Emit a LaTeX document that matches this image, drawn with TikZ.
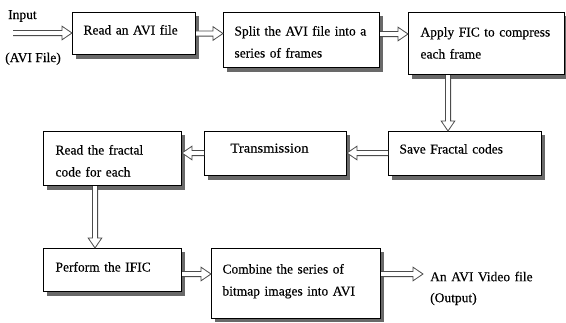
\documentclass[tikz,border=0pt]{standalone}
\usepackage{fontspec}
\setmainfont{Liberation Serif}[FakeBold=0.3]
\usetikzlibrary{calc}
\definecolor{shadowgray}{RGB}{105,105,105}
\begin{document}
\begin{tikzpicture}[x=1pt,y=-1pt,
  bx/.style={draw=black, line width=1pt, fill=white, anchor=north west,
    inner ysep=0pt, align=left, font=\fontsize{13.5}{22}\selectfont},
  lbl/.style={inner sep=0pt, align=left, font=\fontsize{13.5}{21}\selectfont},
  shd/.style={fill=shadowgray, draw=none},
  hol/.style={draw=black!70, line width=0.8pt, fill=white, line join=miter,
    to path={let \p1=($(\tikztotarget)!10pt!(\tikztostart)$) in
      ($(\tikztostart)!2.6pt!90:(\tikztotarget)$) --
      ($(\p1)!2.6pt!90:(\tikztotarget)$) --
      ($(\p1)!6.8pt!90:(\tikztotarget)$) --
      (\tikztotarget) --
      ($(\p1)!6.8pt!-90:(\tikztotarget)$) --
      ($(\p1)!2.6pt!-90:(\tikztotarget)$) --
      ($(\tikztostart)!2.6pt!-90:(\tikztotarget)$)}}]
\useasboundingbox (0,0) rectangle (566,322);
% drop shadows, drawn first, offset right and down from each box
\fill[shd] (75.5,15.5) rectangle (199,58.5);
\fill[shd] (226.5,15.5) rectangle (383,71.5);
\fill[shd] (411.5,15.5) rectangle (569,78.5);
\fill[shd] (391.5,134.5) rectangle (545,179.5);
\fill[shd] (207.5,134.5) rectangle (350,179.5);
\fill[shd] (46.5,134.5) rectangle (185,189.5);
\fill[shd] (46.5,251.5) rectangle (185,295.5);
\fill[shd] (214.5,251.5) rectangle (384,322);
\node[bx, inner xsep=11pt, text width=101pt, minimum width=123pt, minimum height=42pt,
  text height=22pt, text depth=20pt] (b1) at (72,12) {Read an AVI file};
\node[bx, inner xsep=11pt, text width=134pt, minimum width=156pt, minimum height=55pt,
  text height=23pt, text depth=32pt] (b2) at (223,12) {Split the AVI file into a\\series of frames};
\node[bx, inner xsep=12pt, text width=132pt, minimum width=156pt, minimum height=62pt,
  text height=24pt, text depth=38pt] (b3) at (408,12) {Apply FIC to compress\\each frame};
\node[bx, inner xsep=11pt, text width=131pt, minimum width=153pt, minimum height=44pt,
  text height=22pt, text depth=22pt] (sv) at (388,131) {Save Fractal codes};
\node[bx, inner xsep=0pt, text width=142pt, minimum width=142pt, minimum height=44pt,
  text height=21pt, text depth=23pt] (tr) at (204,131) {\hspace*{26pt}\addfontfeature{FakeStretch=1.08}Transmission};
\node[bx, inner xsep=12pt, text width=114pt, minimum width=138pt, minimum height=54pt,
  text height=23pt, text depth=31pt] (rd) at (43,131) {Read the fractal\\code for each};
\node[bx, inner xsep=12pt, text width=114pt, minimum width=138pt, minimum height=43pt,
  text height=23pt, text depth=20pt] (pf) at (43,248) {Perform the IFIC};
\node[bx, inner xsep=11pt, text width=147pt, minimum width=169pt, minimum height=70pt,
  text height=25pt, text depth=45pt] (cb) at (211,248) {Combine the series of\\bitmap images into AVI};
% free texts
\node[lbl, anchor=base west] (inp) at (8,19) {Input};
\node[lbl, anchor=base west] (avi) at (5,62) {(AVI File)};
\node[lbl, anchor=north west, text width=130pt, text height=11pt] (out) at (430,270) {An AVI Video file\\(Output)};
% connector end points
\coordinate (ins) at (13,33);
\coordinate (ine) at (ins -| b1.west);
\coordinate (a2s) at (b1.east);
\coordinate (a2e) at (b1.east -| b2.west);
\coordinate (a3s) at (b2.east |- 0,34);
\coordinate (a3e) at (b3.west |- 0,34);
\coordinate (a4s) at (448,0 |- b3.south);
\coordinate (a4e) at (448,0 |- sv.north);
\coordinate (a5s) at (sv.west |- 0,153);
\coordinate (a5e) at (tr.east |- 0,153);
\coordinate (a6s) at (tr.west |- 0,153);
\coordinate (a6e) at (rd.east |- 0,153);
\coordinate (a7s) at (95,0 |- rd.south);
\coordinate (a7e) at (95,0 |- pf.north);
\coordinate (a8s) at (pf.east |- 0,274);
\coordinate (a8e) at (cb.west |- 0,274);
\coordinate (a9s) at (cb.east |- 0,274);
\coordinate (ot) at (423,274);
% connectors
\draw[hol] (ins) to (ine);
\draw[hol] (a2s) to (a2e);
\draw[hol] (a3s) to (a3e);
\draw[hol] (a4s) to (a4e);
\draw[hol] (a5s) to (a5e);
\draw[hol] (a6s) to (a6e);
\draw[hol] (a7s) to (a7e);
\draw[hol] (a8s) to (a8e);
\draw[hol] (a9s) to (ot);
\end{tikzpicture}
\end{document}
